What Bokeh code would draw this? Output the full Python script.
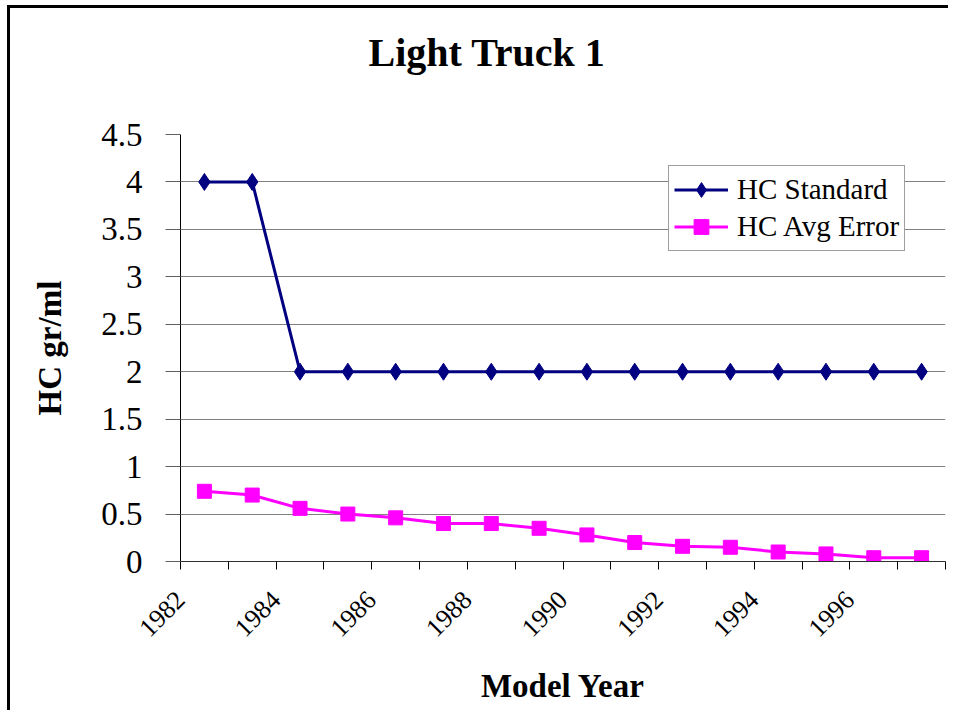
import math
from bokeh.plotting import figure
from bokeh.models import FixedTicker, NumeralTickFormatter, Title
from bokeh.embed import file_html
from bokeh.resources import INLINE

# ---- data ----
years = [1982, 1983, 1984, 1985, 1986, 1987, 1988, 1989,
         1990, 1991, 1992, 1993, 1994, 1995, 1996, 1997]
hc_standard = [4, 4, 2, 2, 2, 2, 2, 2, 2, 2, 2, 2, 2, 2, 2, 2]
hc_avg_error = [0.74, 0.70, 0.56, 0.50, 0.46, 0.40, 0.40, 0.35,
                0.28, 0.20, 0.16, 0.15, 0.10, 0.08, 0.04, 0.04]
labelled_years = [1982, 1984, 1986, 1988, 1990, 1992, 1994, 1996]
y_ticks = [0, 0.5, 1, 1.5, 2, 2.5, 3, 3.5, 4, 4.5]
title_text = "Light Truck 1"

SERIF = "Liberation Serif"

# categories are centred in unit-wide slots; ticks sit on slot boundaries
xs = [i + 0.5 for i in range(len(years))]
n = len(years)

p = figure(width=948, height=710, x_range=(0, n), y_range=(0, 4.5),
           output_backend="svg", toolbar_location=None,
           min_border_left=180, min_border_right=3,
           min_border_top=134, min_border_bottom=149,
           # chart-area border on the left and top edges, painted as background strips
           styles={"background-color": "white",
                   "background-image": "linear-gradient(black, black), linear-gradient(black, black)",
                   "background-size": "3px 100%, 100% 3px",
                   "background-position": "7px 5px, 7px 5px",
                   "background-repeat": "no-repeat"})

# a blank second line lifts the visible title line higher in its panel
p.title = Title(text=title_text + "\n\u00a0", align="left", offset=188,
                text_font=SERIF, text_font_size="40px", text_font_style="bold",
                text_color="black", standoff=30)

p.background_fill_color = "white"
p.border_fill_color = None
p.border_fill_alpha = 0
p.outline_line_color = None

# grid
p.xgrid.grid_line_color = None
p.ygrid.grid_line_color = "#808080"
p.ygrid.grid_line_width = 1
p.ygrid.ticker = FixedTicker(ticks=y_ticks)

# y axis
p.yaxis.ticker = FixedTicker(ticks=y_ticks)
p.yaxis.formatter = NumeralTickFormatter(format="0.[0]")
p.yaxis.major_label_text_font = SERIF
p.yaxis.major_label_text_font_size = "33px"
p.yaxis.major_label_text_color = "black"
p.yaxis.major_tick_out = 15
p.yaxis.major_tick_in = 0
p.yaxis.minor_tick_line_color = None
p.yaxis.major_label_standoff = 23
p.yaxis.axis_line_color = "black"
p.yaxis.major_tick_line_color = "#606060"
p.yaxis.axis_label = "HC gr/ml"
p.yaxis.axis_label_text_font = SERIF
p.yaxis.axis_label_text_font_size = "33px"
p.yaxis.axis_label_text_font_style = "bold"
p.yaxis.axis_label_text_color = "black"
p.yaxis.axis_label_standoff = 30

# x axis
p.xaxis.ticker = FixedTicker(ticks=list(range(n + 1)))
p.xaxis.major_label_overrides = {
    i: (str(years[i]) if i < n and years[i] in labelled_years else "")
    for i in range(n + 1)
}
p.xaxis.major_label_orientation = math.pi / 4
p.xaxis.major_label_text_font = SERIF
p.xaxis.major_label_text_font_size = "26px"
p.xaxis.major_label_text_color = "black"
p.xaxis.major_tick_out = 8
p.xaxis.major_tick_in = 0
p.xaxis.minor_tick_line_color = None
p.xaxis.major_label_standoff = 26
p.xaxis.axis_line_color = "#303030"
p.xaxis.major_tick_line_color = "black"
p.xaxis.axis_label = "Model Year"
p.xaxis.axis_label_text_font = SERIF
p.xaxis.axis_label_text_font_size = "33px"
p.xaxis.axis_label_text_font_style = "bold"
p.xaxis.axis_label_text_color = "black"
p.xaxis.axis_label_standoff = 21

# series
p.line(xs, hc_standard, line_color="#000080", line_width=3, legend_label="HC Standard")
p.scatter(xs, hc_standard, marker="diamond", size=17, fill_color="#000080",
          line_color="#000080", legend_label="HC Standard")
p.line(xs, hc_avg_error, line_color="#FF00FF", line_width=3, legend_label="HC Avg Error")
p.scatter(xs, hc_avg_error, marker="square", size=14, fill_color="#FF00FF",
          line_color="#FF00FF", legend_label="HC Avg Error")

lg = p.legend[0]
lg.location = (488, 310)
lg.padding = 5
lg.spacing = 0
lg.margin = 0
lg.glyph_width = 54
lg.glyph_height = 37
lg.label_height = 37
lg.label_standoff = 9
lg.label_text_font = SERIF
lg.label_text_font_size = "29px"
lg.label_text_color = "black"
lg.border_line_color = "#404040"
lg.border_line_width = 1
lg.background_fill_color = "white"
lg.background_fill_alpha = 1

open("out.html", "w").write(file_html(p, INLINE))
